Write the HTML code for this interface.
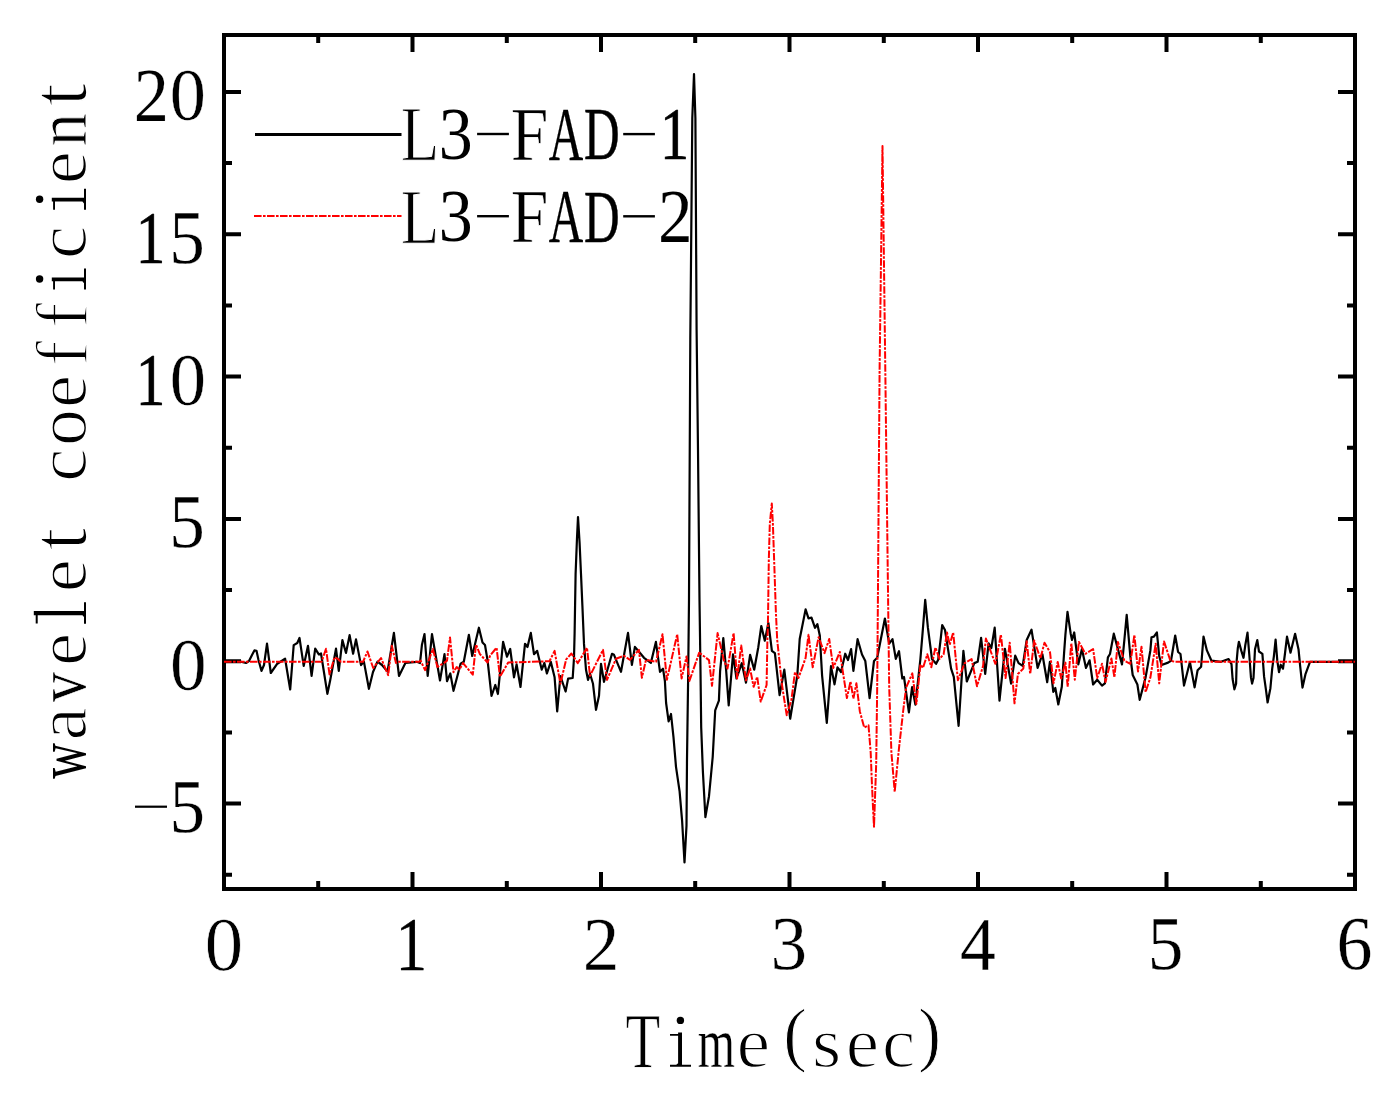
<!DOCTYPE html>
<html><head><meta charset="utf-8"><style>html,body{margin:0;padding:0;background:#fff;overflow:hidden}svg{display:block}</style></head>
<body><svg width="1397" height="1101" viewBox="0 0 1397 1101"><rect x="224.0" y="35.0" width="1131.0" height="854.0" fill="none" stroke="#000" stroke-width="4"/><path d="M318.2 35.0V43.0M318.2 889.0V881.0M412.5 35.0V52.0M412.5 889.0V872.0M506.8 35.0V43.0M506.8 889.0V881.0M601.0 35.0V52.0M601.0 889.0V872.0M695.2 35.0V43.0M695.2 889.0V881.0M789.5 35.0V52.0M789.5 889.0V872.0M883.8 35.0V43.0M883.8 889.0V881.0M978.0 35.0V52.0M978.0 889.0V872.0M1072.2 35.0V43.0M1072.2 889.0V881.0M1166.5 35.0V52.0M1166.5 889.0V872.0M1260.8 35.0V43.0M1260.8 889.0V881.0M224.0 874.8H232.0M1355.0 874.8H1347.0M224.0 803.6H241.0M1355.0 803.6H1338.0M224.0 732.4H232.0M1355.0 732.4H1347.0M224.0 661.3H241.0M1355.0 661.3H1338.0M224.0 590.1H232.0M1355.0 590.1H1347.0M224.0 518.9H241.0M1355.0 518.9H1338.0M224.0 447.8H232.0M1355.0 447.8H1347.0M224.0 376.6H241.0M1355.0 376.6H1338.0M224.0 305.4H232.0M1355.0 305.4H1347.0M224.0 234.3H241.0M1355.0 234.3H1338.0M224.0 163.1H232.0M1355.0 163.1H1347.0M224.0 91.9H241.0M1355.0 91.9H1338.0" stroke="#000" stroke-width="4" fill="none"/><g font-family="Liberation Serif" font-size="73" fill="#000"><text transform="matrix(1.0636 0 0 1.0334 204.39 969.62)" stroke="#fff" stroke-width="0.67">0</text><text transform="matrix(0.8688 0 0 1.0361 395.56 969.86)" stroke="#000" stroke-width="0.29">1</text><text transform="matrix(1.0048 0 0 1.0470 582.87 970.20)" stroke="#fff" stroke-width="0.40">2</text><text transform="matrix(1.0051 0 0 1.0318 770.48 969.47)" stroke="#fff" stroke-width="0.40">3</text><text transform="matrix(0.9811 0 0 1.0509 960.05 970.15)" stroke="#fff" stroke-width="0.29">4</text><text transform="matrix(0.9744 0 0 1.0400 1147.84 969.38)" stroke="#fff" stroke-width="0.25">5</text><text transform="matrix(0.9845 0 0 1.0298 1336.56 969.42)" stroke="#fff" stroke-width="0.30">6</text><text transform="matrix(0.9636 0 0 1.0386 133.81 121.03)" stroke="#fff" stroke-width="0.20">2</text><text transform="matrix(0.9902 0 0 1.0218 169.78 120.37)" stroke="#fff" stroke-width="0.33">0</text><text transform="matrix(0.8111 0 0 1.0260 135.67 262.99)" stroke="#000" stroke-width="0.61">1</text><text transform="matrix(0.9744 0 0 1.0359 169.34 262.65)" stroke="#fff" stroke-width="0.25">5</text><text transform="matrix(0.8111 0 0 1.0260 135.67 405.32)" stroke="#000" stroke-width="0.61">1</text><text transform="matrix(0.9940 0 0 1.0222 169.66 405.05)" stroke="#fff" stroke-width="0.35">0</text><text transform="matrix(0.9744 0 0 1.0359 169.34 547.32)" stroke="#fff" stroke-width="0.25">5</text><text transform="matrix(1.0017 0 0 1.0230 169.92 689.73)" stroke="#fff" stroke-width="0.39">0</text><text transform="matrix(0.9744 0 0 1.0359 169.54 831.99)" stroke="#fff" stroke-width="0.25">5</text><rect x="135" y="805.6" width="32" height="2.2"/><g transform="translate(669.80 1066.80)"><circle cx="10.6" cy="-46.4" r="3.7"/><path d="M8.3 -34.2H12.2V-2H14.2L15.6 -2H21.2V0H0.2V-2H6.4L8.3 -3.6V-31H0.2V-32.9H8.3Z"/></g><text transform="matrix(0.7777 0 0 1.0672 625.52 1067.16)" stroke="#fff" stroke-width="0.78">T</text><text transform="matrix(0.6550 0 0 0.9897 697.67 1066.92)" stroke="#fff" stroke-width="0.30">m</text><text transform="matrix(1.0382 0 0 0.9888 736.46 1066.85)" stroke="#fff" stroke-width="1.50">e</text><text transform="matrix(0.9739 0 0 0.9889 783.25 1058.46)" stroke="#fff" stroke-width="1.08">(</text><text transform="matrix(1.0276 0 0 0.9787 811.92 1066.73)" stroke="#fff" stroke-width="1.46">s</text><text transform="matrix(1.0276 0 0 0.9787 845.64 1066.73)" stroke="#fff" stroke-width="1.46">e</text><text transform="matrix(1.0276 0 0 0.9787 882.08 1066.73)" stroke="#fff" stroke-width="1.46">c</text><text transform="matrix(0.9315 0 0 0.9860 918.28 1058.41)" stroke="#fff" stroke-width="0.90">)</text><text transform="matrix(0.8719 0 0 1.0590 400.46 160.31)" stroke="#fff" stroke-width="1.06">L</text><text transform="matrix(0.9294 0 0 1.0179 438.74 159.09)">3</text><text transform="matrix(0.9266 0 0 1.0487 510.69 160.06)" stroke="#fff" stroke-width="0.53">F</text><text transform="matrix(0.6546 0 0 1.0477 548.74 159.70)" stroke="#000" stroke-width="0.25">A</text><text transform="matrix(0.6763 0 0 1.0253 583.90 159.43)" stroke="#000" stroke-width="0.53">D</text><text transform="matrix(0.7967 0 0 1.0225 660.10 159.49)" stroke="#000" stroke-width="0.69">1</text><rect x="477.1" y="132.8" width="31.8" height="2.4"/><rect x="623.2" y="132.9" width="31.7" height="2.4"/><text transform="matrix(0.8719 0 0 1.0590 400.46 242.51)" stroke="#fff" stroke-width="1.06">L</text><text transform="matrix(0.9294 0 0 1.0179 438.74 241.29)">3</text><text transform="matrix(0.9266 0 0 1.0487 510.69 242.26)" stroke="#fff" stroke-width="0.53">F</text><text transform="matrix(0.6546 0 0 1.0477 548.74 241.90)" stroke="#000" stroke-width="0.25">A</text><text transform="matrix(0.6763 0 0 1.0253 583.90 241.63)" stroke="#000" stroke-width="0.53">D</text><text transform="matrix(0.9471 0 0 1.0369 658.00 242.06)" stroke="#fff" stroke-width="0.12">2</text><rect x="477.1" y="215.0" width="31.8" height="2.4"/><rect x="623.2" y="215.1" width="31.7" height="2.4"/><g transform="rotate(-90) translate(-623.80 86.00)"><path d="M8.6 -52.2H12.7V-2H15L21.6 -2V0H0V-2H6.8L8.6 -3.6V-48.3H0.2V-50.3H8.6Z"/></g><g transform="rotate(-90) translate(-289.60 86.00)"><circle cx="10.6" cy="-46.4" r="3.7"/><path d="M8.3 -34.2H12.2V-2H14.2L15.6 -2H21.2V0H0.2V-2H6.4L8.3 -3.6V-31H0.2V-32.9H8.3Z"/></g><g transform="rotate(-90) translate(-209.90 86.00)"><circle cx="10.6" cy="-46.4" r="3.7"/><path d="M8.3 -34.2H12.2V-2H14.2L15.6 -2H21.2V0H0.2V-2H6.4L8.3 -3.6V-31H0.2V-32.9H8.3Z"/></g><g transform="rotate(-90)"><text transform="matrix(0.6784 0 0 0.9615 -778.70 85.36)">w</text><text transform="matrix(1.0290 0 0 0.9800 -740.43 86.04)" stroke="#fff" stroke-width="1.46">a</text><text transform="matrix(0.8127 0 0 0.9692 -701.98 85.49)" stroke="#fff" stroke-width="0.41">v</text><text transform="matrix(1.0241 0 0 0.9753 -665.96 86.03)" stroke="#fff" stroke-width="1.45">e</text><text transform="matrix(1.0241 0 0 0.9753 -592.36 86.03)" stroke="#fff" stroke-width="1.45">e</text><text transform="matrix(1.1477 0 0 1.0930 -550.75 86.12)" stroke="#fff" stroke-width="1.61">t</text><text transform="matrix(1.0241 0 0 0.9753 -481.66 86.03)" stroke="#fff" stroke-width="1.45">c</text><text transform="matrix(0.9986 0 0 0.9797 -445.63 85.95)" stroke="#fff" stroke-width="1.31">o</text><text transform="matrix(1.0241 0 0 0.9753 -407.91 86.03)" stroke="#fff" stroke-width="1.45">e</text><text transform="matrix(1.0628 0 0 1.0122 -366.61 86.86)" stroke="#fff" stroke-width="1.66">f</text><text transform="matrix(1.0628 0 0 1.0122 -328.46 86.86)" stroke="#fff" stroke-width="1.66">f</text><text transform="matrix(1.0241 0 0 0.9753 -258.96 86.03)" stroke="#fff" stroke-width="1.45">c</text><text transform="matrix(1.0241 0 0 0.9753 -184.16 86.03)" stroke="#fff" stroke-width="1.45">e</text><text transform="matrix(0.9161 0 0 0.9795 -146.48 86.45)" stroke="#fff" stroke-width="0.94">n</text><text transform="matrix(1.1552 0 0 1.1002 -106.38 86.12)" stroke="#fff" stroke-width="1.60">t</text></g></g><path d="M255 134.4H401.5" stroke="#000" stroke-width="3"/><path d="M254 216H401.5" stroke="#f00" stroke-width="2.0" stroke-dasharray="7.6 1.4 2.6 1.4"/><path d="M224 661.8 240.8 661.8 246 663 249 661 252 655 254.4 650.4 256.5 650.8 258.5 660 261.5 670.9 264 665 267 643.7 270.8 673 277.3 663.7 285.1 658.7 290.2 689.5 293.7 645.1 297.3 643 299.5 637.9 303.7 665.9 308 645.8 311.6 675.9 315.2 648.7 318.8 654.4 321 653.5 327.4 693.8 330.2 680.2 336 648.7 338.8 670.9 342.4 640.1 346 653 349.6 635.1 353.1 653.7 356 639.4 361 665.1 363.9 661.6 368.9 688.8 373 672 377.5 661.6 382 665 387.5 671.6 393.9 632.9 399 675.9 405.4 663 416.8 661.8 420 663.1 421.9 645.1 424.5 634.1 427.7 676 432 634.1 440 680.5 444.5 654.1 447 681.2 450.3 673.4 453.5 690.8 460.6 663.8 463.8 661.8 468.9 634.8 472.2 656 478.9 627.7 482.5 642.5 485 645 487.6 660.6 491.5 696 495.3 685 497.9 694 503.1 641.9 507 656.7 510.2 649 514 677.3 516.6 664.4 520.5 687 525 643.8 527.5 647 530.8 632.9 534 654.1 537.2 650.9 541.7 669.6 544.4 663 546.9 673.4 550.8 661.8 554.6 677.3 557.2 711.5 560.4 676 565.6 691.5 568.1 678.6 572.7 678 574 658 574.6 633.5 575.6 574 577 538 578 517 579.6 543 581 574 582.4 605.9 584 643.9 586 669.8 588 679.8 590 673.8 593 683.8 596 709.8 599 695.8 601 663.8 604 681.8 612 653.8 614 654.8 621 671.8 628 632.9 631.9 664.8 634.9 646.9 639 651.8 644 657.8 650.9 662.8 655.9 641.9 660 671.8 663 668.7 664.9 681 666.1 703 668.6 721.4 671 714 673.5 737.4 676 766.8 679.6 791.3 682.1 820.8 684.5 862.4 686.5 825.7 687 759.4 688.2 673.6 689 600 690.3 339 692.3 118 694 74 695.4 118 696.6 330 698 450 699.5 600 700.5 671.1 701.2 727.5 702.9 771.7 705.4 817.1 709 796.2 712.7 757 715.2 710.4 718.9 700.6 720.1 671.1 723.3 638 726.2 671.1 728.7 705.5 733 654.3 736.5 678.5 741.8 663.2 746 682.7 750.1 654.9 754.2 669.7 758.3 647.2 761.3 626 764.8 640.7 768.4 623 771.9 650.8 774.9 653.1 779.6 695.1 784.3 669.7 790.2 718.7 797.3 675.6 799.7 639 805.6 609.4 808.5 618.3 811.5 617.7 815 627.8 817.4 624.2 819.8 635.4 822.1 675.6 826.8 722.8 831 666.1 834.5 684.4 837.5 667.3 841 672 845.2 653.7 848 660 851.1 649 853.4 670.9 857.6 639.2 862 654.5 865.3 661 869.6 698.1 874 661 877.2 657.8 884.9 618.5 889.2 643.6 892.5 639.2 895.8 658.9 899 651.2 902.3 678.5 904 677 908.9 712.3 912.1 687.2 915.4 704.6 920.4 659 922.5 633.8 925.2 599.8 927.9 627.7 932 659 936.1 663.8 938.2 659.7 940.9 637.2 942.2 625 945 630 951.1 668.6 953.8 676.8 958.6 725.8 961.3 683.6 963.4 650.9 966.8 681.5 974.3 663.1 977.7 661.8 981.1 637.9 985.2 674 988.6 643.4 991.3 648.1 994.7 627.7 999.5 700.6 1004.9 648.8 1011.1 683.6 1015.2 655.6 1018.6 663.1 1022.7 665.9 1026.7 640 1031.5 629.7 1037.6 667.9 1042.4 654.3 1047.2 682.2 1049.9 661.8 1053.3 691.8 1055.3 688 1058.3 704.5 1061.8 686.8 1064.2 651.4 1065.4 634.9 1067.5 611.8 1070.7 633.7 1072 640 1074.2 632.5 1078.3 664.4 1081.9 649 1086 667.9 1089.6 660.3 1093.1 684.5 1097.2 679.7 1102 685.6 1104.9 683.3 1107.9 657.3 1110 654 1113.8 633.7 1122 664.4 1124.4 639.6 1126.7 614.8 1130.3 656.1 1132.7 675 1137.4 684.5 1139.7 699.8 1145.6 677.4 1150.4 650.2 1151.5 637.2 1153.9 636.6 1156.9 632.5 1159.2 656.1 1161.6 665 1168.1 662.6 1171 660.8 1175.2 635.5 1178.1 652 1180.5 654 1184 685.6 1189.9 662 1194.6 687.4 1197.6 670.3 1201.1 666.8 1203.5 636.6 1206.9 650.4 1211.5 660.7 1221 661.8 1228.6 659 1231.5 664.1 1232.6 679 1234.4 689.3 1236.1 683.6 1236.7 660.7 1237.8 648.1 1238.9 641.8 1241.2 650.4 1243.5 657.8 1245.2 645.8 1247.5 632.6 1249.3 655 1251 677.9 1252.1 683.6 1253.5 678 1255 649.2 1257.3 640.1 1259 651.5 1262.4 653.8 1264.1 676.7 1265.9 689.3 1267.6 702.5 1270.4 688.2 1272.2 668.7 1273.9 656.1 1275.6 639.5 1277.3 660.7 1279 672.2 1280.7 664.7 1283 668.7 1284.8 655 1287 636.7 1290.5 652.7 1295.1 633.8 1298.5 649.2 1300.2 666.4 1302.5 687.6 1305.4 674.4 1310 661.8 1340 661.8" fill="none" stroke="#000" stroke-width="2.2" stroke-linejoin="round"/><path d="M224 661.8 321.6 661.8 326 648.7 329.5 674.4 334.5 657.3 338 659 341 661.8 363 661.8 367.5 651.5 373.2 668 381 658 388.2 675.2 391.8 645.8 396 663 398 661.8 419 661.8 420.6 660.6 425.1 670.2 432.9 649 437.4 667 443.8 663.1 447 660.6 450 637.4 453.5 672.2 456.7 667 459.3 669.6 463.1 663.1 472.8 674.7 476 644.5 479.9 654.1 487.6 662.5 490.2 655.4 496.6 647.7 499.9 676.7 508.2 662.5 549.5 661.2 554.6 650.9 560.4 683.8 566.2 659.3 571.4 653.5 577.8 663.1 587 647.8 590 675.8 603 649.8 607 679.8 616 658.8 624 655.8 630 659.8 638.9 649.8 641.9 677.8 646 659.8 656 661.8 662.5 634.3 666.9 679.7 677.2 634.3 681.6 678.5 686.5 656.4 689.4 681 699.2 652.7 709 660.1 712 685.8 717.6 633.1 723.8 660.1 727.5 668.7 733.6 633.1 737.1 678.5 741.2 645.5 746 680.3 750.1 668.5 753.6 686.8 757.2 676.8 760.7 701.6 766.6 685 767.4 640 768 619.4 768.8 560.8 769.8 524 771.8 503.6 772.9 524 774.3 565 775.9 612.6 777.2 640 782 685 786.7 715.2 791.4 699.8 795 672 798.5 678 805.6 657.9 808.5 634.8 812.7 667.3 818.6 637.2 824.5 653.1 829.2 639 833.3 667.9 839.8 652 846.9 698 850.5 681.5 853.4 698.6 856.4 683.3 859.8 711.2 864.2 727.5 868.5 725.3 870.7 752.6 871.8 780.9 872.9 804.9 874 826.7 876.2 763.5 877.2 687.2 877.9 600 879.6 370 882.5 146 885.3 370 888.1 600 889.2 687.2 891.4 752.6 894.7 791.8 899 748.2 903.4 709 906.1 687.7 912.3 673.4 916.4 704 920.4 664.5 923 668 927.3 654.3 931.3 667.2 935.4 647.5 939.5 659 943.6 654.3 947 632.5 949.7 644.7 953.2 632.5 957.9 680.2 964.7 663.1 971.6 659 977 686.3 983.1 665.9 985.9 638.6 995.4 663.8 1000.9 634.5 1005.6 678.1 1009.7 642.7 1014.5 703.3 1017.9 674 1023.3 668.6 1026.7 641.3 1030.2 674 1034.2 640.6 1040.4 658.4 1044.5 642.7 1050 652.2 1053.5 683.3 1057.7 662 1061.2 678.6 1065.4 662.6 1067.7 686.8 1071.3 643.1 1074.8 679.7 1078.9 642 1085.4 653.8 1093.1 649 1097.2 678 1102 663.8 1105.5 682.1 1111.4 658.5 1114.4 677.4 1117.9 642 1124.4 660.8 1130.3 663.8 1134.4 634.9 1138 671.5 1141.5 646.7 1145.6 692.1 1150.4 677.4 1155.7 643.7 1159.2 683.3 1164 641.4 1170.4 660.8 1175 661.8 1355 661.8" fill="none" stroke="#f00" stroke-width="2.0" stroke-linejoin="round" stroke-dasharray="7.6 1.4 2.6 1.4"/></svg></body></html>
